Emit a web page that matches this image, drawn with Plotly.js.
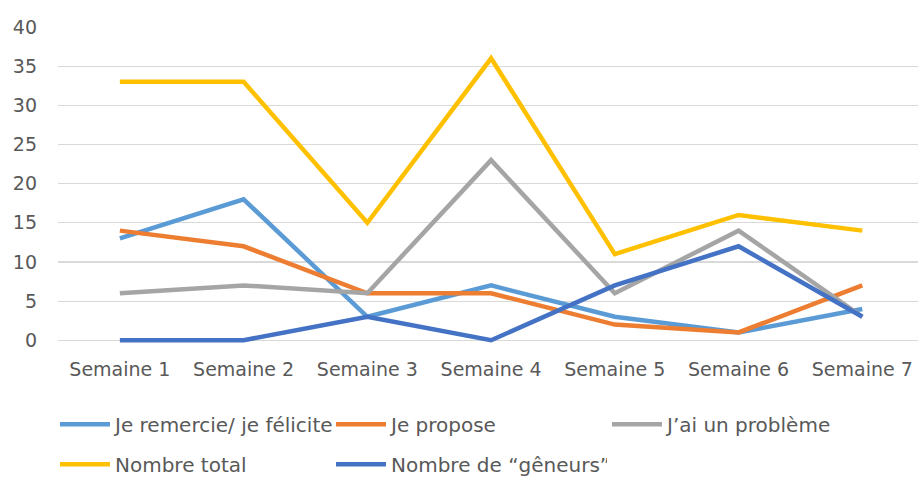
<!DOCTYPE html>
<html><head><meta charset="utf-8">
<script src="https://cdn.plot.ly/plotly-3.0.1.min.js"></script>
<style>html,body{margin:0;padding:0;background:#fff}#chart{width:918px;height:477px}</style>
</head><body><div id="chart"></div>
<script>
const categories = ["Semaine 1","Semaine 2","Semaine 3","Semaine 4","Semaine 5","Semaine 6","Semaine 7"];
const seriesNames = ["Je remercie/ je félicite","Je propose","J’ai un problème","Nombre total","Nombre de “gêneurs”"];
const remercie = [13, 18, 3, 7, 3, 1, 4];
const propose = [14, 12, 6, 6, 2, 1, 7];
const probleme = [6, 7, 6, 23, 6, 14, 3];
const total = [33, 33, 15, 36, 11, 16, 14];
const geneurs = [0, 0, 3, 0, 7, 12, 3];
const yTicks = [0,5,10,15,20,25,30,35,40];

const colors = ["#5b9bd5","#ed7d31","#a5a5a5","#ffc000","#4472c4"];
const values = [remercie, propose, probleme, total, geneurs];
const legendOf = ["legend","legend","legend","legend2","legend2"];

const traces = values.map((v,i)=>({
  x: categories, y: v, name: seriesNames[i], type: "scatter", mode: "lines",
  line: {color: colors[i], width: 4.5}, legend: legendOf[i], cliponaxis: false
}));

const tickFont = {family: "DejaVu Sans, sans-serif", size: 19, color: "#595959"};
const legFont = {family: "DejaVu Sans, sans-serif", size: 20, color: "#595959"};
const layout = {
  width: 918, height: 477,
  margin: {l: 58, r: 0, t: 27, b: 134.3, autoexpand: false},
  paper_bgcolor: "#fff", plot_bgcolor: "#fff",
  font: tickFont,
  xaxis: {type: "category", range: [-0.5, 6.45], showgrid: false, zeroline: false, showline: false,
    ticks: "", tickfont: tickFont, ticklabelstandoff: 13},
  yaxis: {range: [-0.35, 40], tickvals: yTicks, ticktext: yTicks.map(String), showgrid: true,
    gridcolor: "#d9d9d9", gridwidth: 1.2, zeroline: false, showline: false, ticks: "",
    tickfont: tickFont, ticklabelstandoff: 20, fixedrange: true},
  showlegend: true,
  legend: {orientation: "h", x: -0.0035, xanchor: "left", y: -0.2575, yanchor: "middle",
    entrywidth: 211, entrywidthmode: "pixels", itemwidth: 50, font: legFont, bgcolor: "rgba(0,0,0,0)"},
  legend2: {orientation: "h", x: -0.0035, xanchor: "left", y: -0.384, yanchor: "middle",
    entrywidth: 211, entrywidthmode: "pixels", itemwidth: 50, font: legFont, bgcolor: "rgba(0,0,0,0)"}
};
Plotly.newPlot("chart", traces, layout, {displayModeBar: false, staticPlot: true});
</script></body></html>
